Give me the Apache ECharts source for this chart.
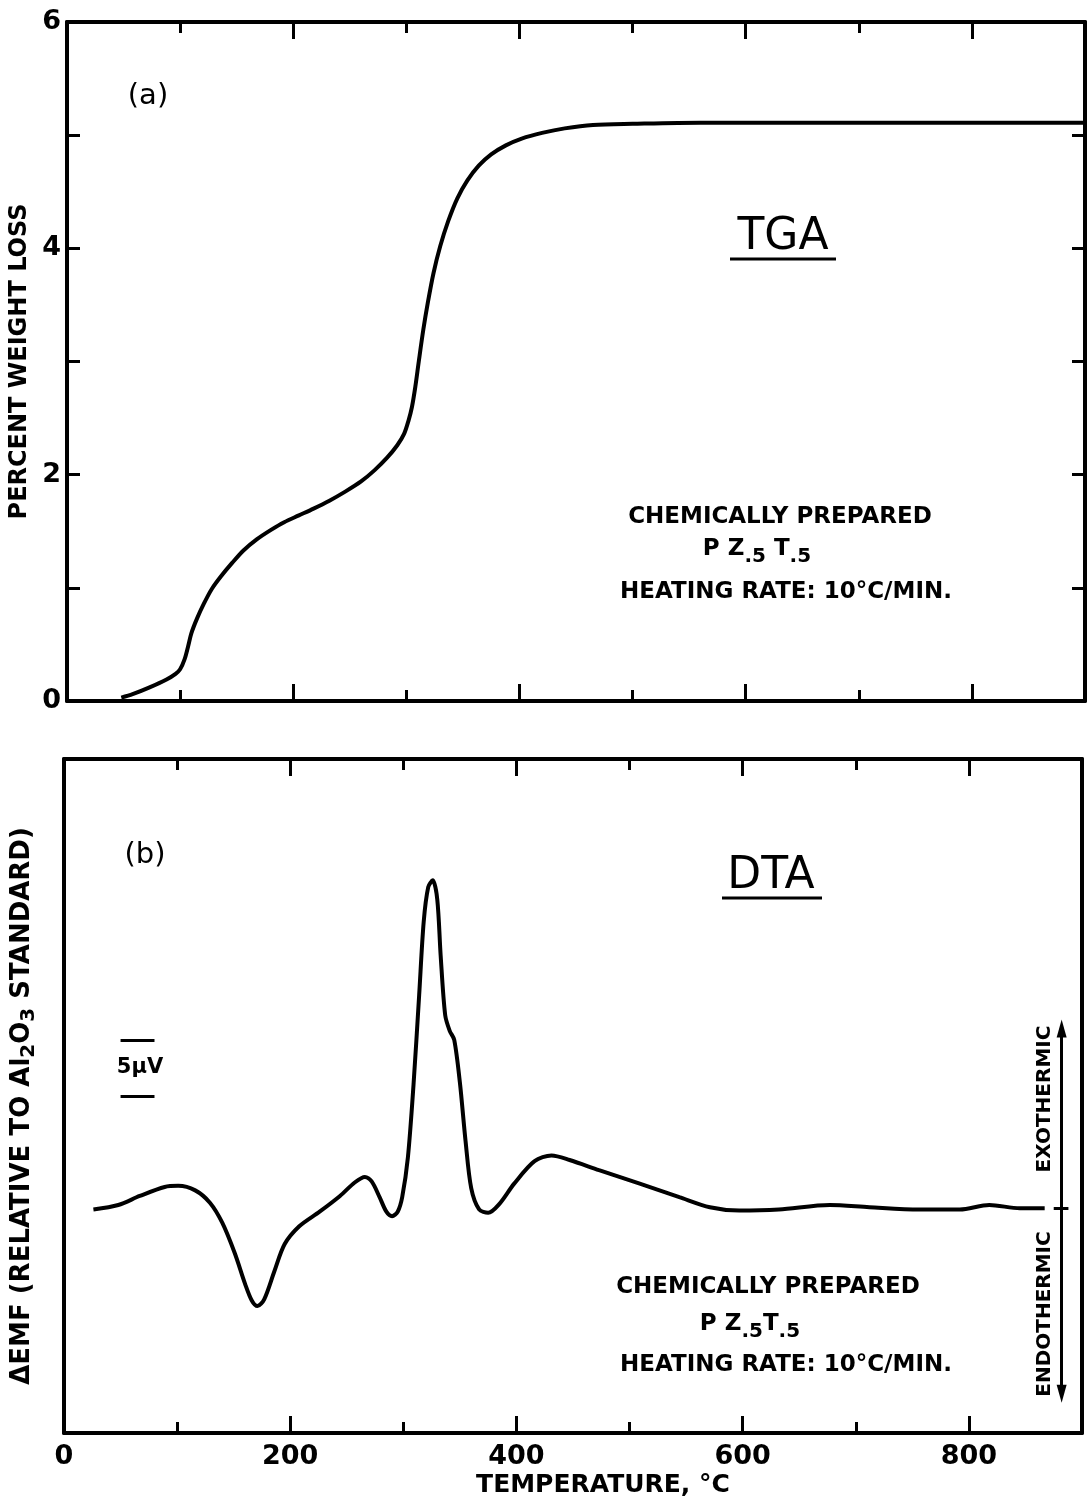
<!DOCTYPE html>
<html>
<head>
<meta charset="utf-8">
<title>TGA / DTA of chemically prepared PZ.5T.5</title>
<script src="https://cdn.jsdelivr.net/npm/echarts@6/dist/echarts.min.js"></script>
<style>
  html, body { margin: 0; padding: 0; background: #fff; }
  #chart { width: 1091px; height: 1506px; }
</style>
</head>
<body>
<div id="chart"></div>
<script>
// ---- TGA: percent weight loss vs temperature (°C)
const tgaTemp = [48, 58, 73, 88, 96, 100, 104, 107, 110, 115, 121, 128, 136, 146, 156, 168, 180, 192, 205, 218, 232, 246, 260, 272, 283, 292, 298, 302, 305, 308, 311, 315, 319, 324, 330, 337, 345, 354, 364, 375, 388, 402, 420, 440, 465, 500, 560, 700, 900];
const tgaLoss = [0.03, 0.06, 0.12, 0.19, 0.24, 0.28, 0.37, 0.48, 0.60, 0.73, 0.86, 0.99, 1.10, 1.22, 1.33, 1.43, 1.51, 1.58, 1.64, 1.70, 1.77, 1.85, 1.94, 2.04, 2.15, 2.26, 2.36, 2.48, 2.60, 2.78, 3.00, 3.28, 3.52, 3.78, 4.02, 4.24, 4.44, 4.60, 4.73, 4.83, 4.91, 4.97, 5.02, 5.06, 5.09, 5.10, 5.11, 5.11, 5.11];

// ---- DTA: ΔEMF (µV, relative to the Al2O3 standard) vs temperature (°C)
const dtaTemp = [26, 48, 67, 89, 101, 116, 129, 140, 151, 160, 166, 171, 177, 186, 195, 208, 226, 244, 257, 266, 272, 279, 285, 290, 295, 299, 304, 309, 314, 318, 322, 326, 330, 333, 337, 341, 345, 350, 355, 360, 367, 375, 385, 398, 416, 431, 447, 473, 509, 544, 571, 597, 632, 677, 712, 756, 792, 818, 845, 867];
const dtaEmf = [-0.1, 0.3, 1.1, 1.9, 2.0, 1.6, 0.5, -1.3, -4.0, -6.7, -8.2, -8.7, -8.1, -5.6, -3.2, -1.6, -0.3, 1.1, 2.3, 2.8, 2.4, 1.0, -0.3, -0.7, -0.3, 1.0, 4.5, 11.0, 19.0, 25.5, 28.6, 29.2, 27.5, 22.5, 17.2, 15.8, 15.0, 11.2, 6.0, 1.8, -0.1, -0.4, 0.4, 2.2, 4.2, 4.7, 4.3, 3.4, 2.2, 1.0, 0.1, -0.2, -0.1, 0.3, 0.1, -0.1, -0.1, 0.3, 0.0, 0.0];

// axis tick labels
const tempTickLabels = [0, 200, 400, 600, 800];
const lossTickLabels = [0, 2, 4, 6];

// 5 µV scale bar and exo/endo direction arrow (data units)
const scaleBarTemp = [50, 80];
const scaleBarEmf = [10, 15];
const arrowTemp = 882;
const arrowEmf = [16, -16.5];

const FONT = 'DejaVu Sans';
const INK = '#000';

const tgaData = tgaTemp.map((t, i) => [t, tgaLoss[i]]);
const dtaData = dtaTemp.map((t, i) => [t, dtaEmf[i]]);

// one temperature axis edge: frame line + inward ticks of given length every `interval`
function tempAxis(gridIndex, position, interval, tickLen, withLine, withLabels) {
  return {
    type: 'value', gridIndex, position, min: 0, max: 900, interval,
    axisLine: { show: withLine, onZero: false, lineStyle: { color: INK, width: 4 } },
    axisTick: { show: true, inside: true, length: tickLen, lineStyle: { color: INK, width: 3 } },
    splitLine: { show: false },
    axisLabel: withLabels ? {
      show: true, margin: 10, color: INK, fontFamily: FONT, fontSize: 27, fontWeight: 'bold',
      showMaxLabel: false,
      formatter: v => (tempTickLabels.indexOf(v) >= 0 ? String(v) : '')
    } : { show: false }
  };
}

const xAxes = [];
[0, 1].forEach(g => {
  xAxes.push(tempAxis(g, 'bottom', 100, 11, true, false));
  xAxes.push(tempAxis(g, 'bottom', 200, 17, false, g === 1));
  xAxes.push(tempAxis(g, 'top', 100, 11, true, false));
  xAxes.push(tempAxis(g, 'top', 200, 17, false, false));
});
const dtaXIndex = 5; // bottom labelled axis of lower panel

const yAxes = [
  {
    type: 'value', gridIndex: 0, position: 'left', min: 0, max: 6, interval: 1,
    name: 'PERCENT WEIGHT LOSS', nameLocation: 'middle', nameRotate: 90, nameGap: 31,
    nameTextStyle: { color: INK, fontFamily: FONT, fontSize: 24, fontWeight: 'bold' },
    axisLine: { show: true, onZero: false, lineStyle: { color: INK, width: 4 } },
    axisTick: { show: true, inside: true, length: 13, lineStyle: { color: INK, width: 3 } },
    splitLine: { show: false },
    axisLabel: {
      margin: 6, color: INK, fontFamily: FONT, fontSize: 27, fontWeight: 'bold',
      formatter: v => (lossTickLabels.indexOf(v) >= 0 ? String(v) : '')
    }
  },
  {
    type: 'value', gridIndex: 0, position: 'right', min: 0, max: 6, interval: 1,
    axisLine: { show: true, onZero: false, lineStyle: { color: INK, width: 4 } },
    axisTick: { show: true, inside: true, length: 13, lineStyle: { color: INK, width: 3 } },
    splitLine: { show: false }, axisLabel: { show: false }
  },
  {
    type: 'value', gridIndex: 1, position: 'left', min: -20, max: 40, interval: 10,
    name: '{n|ΔEMF (RELATIVE TO Al}{s|2}{n|O}{s|3}{n| STANDARD)}',
    nameLocation: 'middle', nameRotate: 90, nameGap: 25,
    nameTextStyle: {
      color: INK,
      padding: [0, 20, 0, 0],
      rich: {
        n: { color: INK, fontFamily: FONT, fontSize: 26, fontWeight: 'bold', verticalAlign: 'top' },
        s: { color: INK, fontFamily: FONT, fontSize: 20, fontWeight: 'bold', verticalAlign: 'top', padding: [10, 0, 0, 0] }
      }
    },
    axisLine: { show: true, onZero: false, lineStyle: { color: INK, width: 4 } },
    axisTick: { show: false }, splitLine: { show: false }, axisLabel: { show: false }
  },
  {
    type: 'value', gridIndex: 1, position: 'right', min: -20, max: 40, interval: 10,
    axisLine: { show: true, onZero: false, lineStyle: { color: INK, width: 4 } },
    axisTick: { show: false }, splitLine: { show: false }, axisLabel: { show: false }
  }
];

// text helpers for the panel annotations
function label(x, y, text, size, weight, extra) {
  return Object.assign({
    type: 'text', x, y, silent: true,
    style: { text, fill: INK, font: `${weight} ${size}px "${FONT}"`, align: 'center', verticalAlign: 'middle' }
  }, extra || {});
}
function formula(x, y, gap) {
  return {
    type: 'text', x, y, silent: true,
    style: {
      text: '{a|P Z}{s|.5}{a|' + gap + 'T}{s|.5}', align: 'center', verticalAlign: 'middle',
      rich: {
        a: { fill: INK, fontFamily: FONT, fontSize: 23, fontWeight: 'bold', verticalAlign: 'top' },
        s: { fill: INK, fontFamily: FONT, fontSize: 20, fontWeight: 'bold', verticalAlign: 'top', padding: [9, 0, 0, 0] }
      }
    }
  };
}
function rule(x1, x2, y) {
  return { type: 'line', silent: true, shape: { x1, y1: y, x2, y2: y }, style: { stroke: INK, lineWidth: 3 } };
}

const option = {
  animation: false,
  backgroundColor: '#fff',
  grid: [
    { left: 67, top: 22, width: 1018, height: 679, outerBoundsMode: 'none', containLabel: false },
    { left: 64, top: 759, width: 1018, height: 674, outerBoundsMode: 'none', containLabel: false }
  ],
  xAxis: xAxes,
  yAxis: yAxes,
  series: [
    {
      name: 'TGA', type: 'line', xAxisIndex: 0, yAxisIndex: 0, data: tgaData,
      showSymbol: false, smooth: 0.3, lineStyle: { color: INK, width: 4 }, silent: true
    },
    {
      name: 'DTA', type: 'line', xAxisIndex: dtaXIndex, yAxisIndex: 2, data: dtaData,
      showSymbol: false, smooth: 0.3, lineStyle: { color: INK, width: 4 }, silent: true,
      markLine: {
        silent: true, symbol: ['none', 'none'], label: { show: false },
        lineStyle: { color: INK, width: 3, type: 'solid' },
        data: [
          [{ coord: [scaleBarTemp[0], scaleBarEmf[0]] }, { coord: [scaleBarTemp[1], scaleBarEmf[0]] }],
          [{ coord: [scaleBarTemp[0], scaleBarEmf[1]] }, { coord: [scaleBarTemp[1], scaleBarEmf[1]] }],
          [{ coord: [arrowTemp, 0] }, { coord: [arrowTemp, arrowEmf[0]], symbol: 'triangle', symbolSize: [10, 18] }],
          [{ coord: [arrowTemp, 0] }, { coord: [arrowTemp, arrowEmf[1]], symbol: 'triangle', symbolSize: [10, 18] }],
          [{ coord: [arrowTemp - 7, 0] }, { coord: [arrowTemp + 6, 0] }]
        ]
      }
    }
  ],
  graphic: [
    // upper panel
    label(148, 96, '(a)', 29, 'normal'),
    label(783, 238, 'TGA', 44, 'normal'),
    rule(730, 836, 259),
    label(780, 517, 'CHEMICALLY PREPARED', 23, 'bold'),
    formula(757, 552, ' '),
    label(786, 592, 'HEATING RATE: 10°C/MIN.', 23, 'bold'),
    // lower panel
    label(145, 855, '(b)', 29, 'normal'),
    label(771, 877, 'DTA', 44, 'normal'),
    rule(722, 822, 898),
    label(140, 1068, '5µV', 21, 'bold'),
    label(768, 1287, 'CHEMICALLY PREPARED', 23, 'bold'),
    formula(750, 1327, ''),
    label(786, 1365, 'HEATING RATE: 10°C/MIN.', 23, 'bold'),
    label(1045, 1099, 'EXOTHERMIC', 20, 'bold', { rotation: Math.PI / 2 }),
    label(1045, 1314, 'ENDOTHERMIC', 20, 'bold', { rotation: Math.PI / 2 }),
    // temperature axis title
    label(603, 1485, 'TEMPERATURE, °C', 25, 'bold')
  ]
};

const chart = echarts.init(document.getElementById('chart'));
chart.setOption(option);
</script>
</body>
</html>
